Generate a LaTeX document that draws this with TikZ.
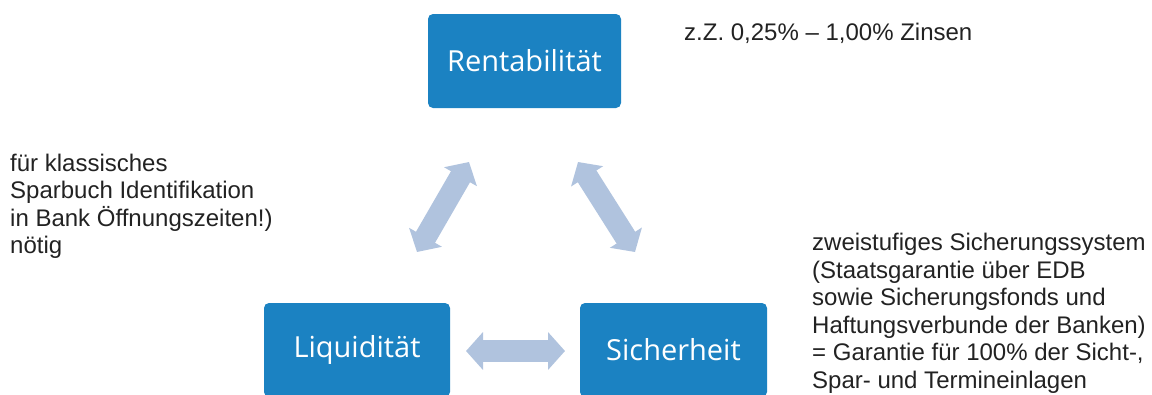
\documentclass[tikz,border=0pt]{standalone}
\usepackage{fontspec}
\setmainfont{Liberation Sans}
\newfontfamily\boxfont{Open Sans}
\usetikzlibrary{arrows.meta}
\definecolor{boxblue}{HTML}{1B82C2}
\definecolor{arrowfill}{HTML}{B0C3DE}
\definecolor{notegray}{HTML}{222222}
\tikzset{
  goalbox/.style={fill=boxblue, rounded corners=5pt, minimum width=#1, minimum height=94pt,
    inner sep=0pt, text=white, font=\boxfont\fontsize{29}{34}\selectfont},
  blockarrow/.style={draw=arrowfill, line width=22pt,
    {Triangle[width=37pt,length=17pt]}-{Triangle[width=37pt,length=17pt]}},
  note/.style={inner sep=0pt, align=left, text=notegray,
    font=\fontsize{24}{27.6}\selectfont}
}
\begin{document}
\begin{tikzpicture}[x=1pt, y=-1pt]
  \useasboundingbox (0,0) rectangle (1152,394);
  \clip (0,0) rectangle (1152,394);

  % the three goals
  \node[goalbox=193pt] (rent) at (524.5,61) {Rentabilität};
  \node[goalbox=186pt] (liq)  at (357,350) {Liquidität};
  \node[goalbox=187pt] (sich) at (673.5,350) {Sicherheit};

  % end points of the block arrows between the goals
  \coordinate (lq-a) at (417,252);
  \coordinate (lq-b) at (469,162);
  \coordinate (si-a) at (578,162);
  \coordinate (si-b) at (635,252);
  \coordinate (ls-a) at (466,351);
  \coordinate (ls-b) at (565,351);

  \draw[blockarrow] (lq-a) -- (lq-b);
  \draw[blockarrow] (si-a) -- (si-b);
  \draw[blockarrow] (ls-a) -- (ls-b);

  % notes
  \node[note, anchor=base west] (zins) at (684,40) {z.Z. 0,25\% – 1,00\% Zinsen};
  \node[note, anchor=north west] (ident) at (10,153.5)
    {für klassisches\\Sparbuch Identifikation\\in Bank Öffnungszeiten!)\\nötig};
  \node[note, anchor=north west] (sys) at (812,233)
    {zweistufiges Sicherungssystem\\(Staatsgarantie über EDB\\sowie Sicherungsfonds und\\Haftungsverbunde der Banken)\\= Garantie für 100\% der Sicht-,\\Spar- und Termineinlagen};
\end{tikzpicture}
\end{document}
